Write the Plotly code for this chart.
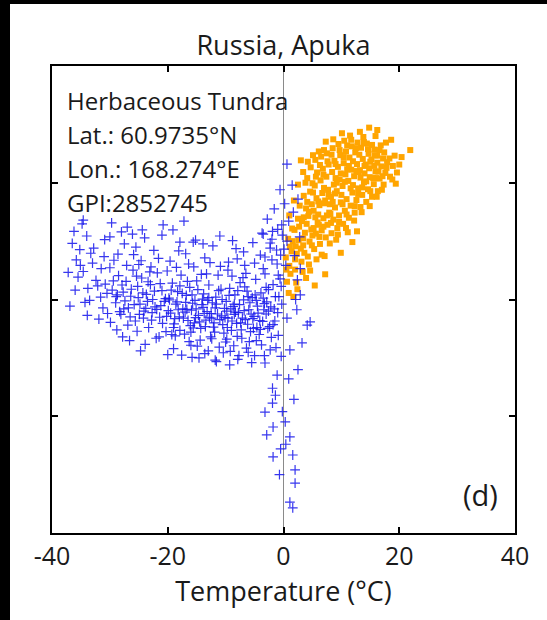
import plotly.graph_objects as go

# ---- data: winter (T < ~0) and summer observations ----
winter_temp = [
    -36.5, -35.8, -35.2, -34.6, -36.9, -33.8, -33.0, -32.4, -31.6, -35.5, -34.0, -32.8, -31.0, -30.4, -33.5, -30.8, -34.8, -31.9,
    -29.6, -29.0, -28.5, -28.1, -27.7, -27.2, -26.8, -26.4, -26.0, -25.6, -25.2, -24.8, -24.5, -24.1, -23.7, -23.3, -23.0, -22.6,
    -22.2, -21.8, -21.4, -21.0, -20.6, -20.3, -29.3, -27.5, -25.9, -24.0, -22.4, -20.8, -28.8, -26.6, -23.9, -21.5, -28.0, -25.0, -22.9,
    -19.8, -19.5, -19.2, -18.9, -18.6, -18.3, -18.0, -17.7, -17.4, -17.1, -16.8, -16.5, -16.2, -15.9, -15.6, -15.3, -15.0, -14.7,
    -14.4, -14.1, -13.8, -13.5, -13.2, -12.9, -12.6, -12.3, -12.0, -11.7, -11.4, -11.1, -10.8, -10.5, -10.2, -19.6, -18.1, -16.4,
    -15.2, -13.6, -12.2, -10.9, -19.0, -17.6, -16.0, -14.6, -13.0, -11.6, -10.4, -17.9, -16.7, -15.4, -14.0, -12.8, -11.9, -18.7, -13.3,
    -9.9, -9.6, -9.3, -9.0, -8.7, -8.4, -8.1, -7.8, -7.5, -7.2, -6.9, -6.6, -6.3, -6.0, -5.7, -5.4, -5.1, -4.8, -4.5, -4.2, -3.9,
    -3.6, -3.3, -9.5, -8.2, -6.7, -5.3, -4.0, -3.5, -9.2, -7.9, -6.4, -5.0, -3.8, -8.9, -7.0, -5.9, -4.6, -9.8, -8.5,
    -34.6, -27.0, -24.4, -21.0, -17.9, -15.6, -30.0, -3.7, -2.3,
    -0.3, 0.6, 1.5, 2.5, 1.7, -1.0, -3.5, 0.6, -2.3, 2.8, -1.1, 2.9, -3.2, 2.4, 2.9, -0.5, -1.8, -0.8, -2.6, -1.5, -0.4, -2.0, 0.2, -0.6,
    -3.2, -2.3, -1.1, -1.9, -1.9, -3.2, -1.8, 0.3, 1.1, -1.8, 1.6, 2.0, 2.0, 1.1, 1.6, 4.1, 3.2, 4.6, 1.1, 2.3, 0.6, -0.9, -2.7,
    -0.4, 0.9, -1.4, -0.2, 2.5, -2.9, 0.4, -0.7, 1.8, -0.5,
    -31.2, -30.5, -29.9, -29.4, -28.9, -28.3, -27.9, -27.4, -26.9, -26.3, -25.8, -25.4, -24.9, -24.3, -23.8, -23.4, -22.8, -22.3,
    -21.9, -21.3, -20.9, -20.4, -19.9, -19.4, -18.8, -18.4, -17.9, -17.5, -17.0, -16.6, -16.1, -15.7, -15.2, -14.8, -14.3, -13.9,
    -13.4, -12.9, -12.5, -12.1, -11.6, -11.2, -10.7, -10.3, -9.8, -9.4, -8.9, -8.5, -8.0, -7.6, -7.1, -6.7, -6.2, -5.8, -5.3, -4.9,
    -4.4, -4.0, -3.5, -3.0, -2.6, -2.2, -1.8, -1.4, -1.0, -0.6, -0.3,
    -30.0, -28.6, -27.1, -25.5, -24.6, -23.1, -21.6, -20.1, -18.5, -16.9, -15.5, -14.2, -12.7, -11.3, -9.6, -8.0, -6.5, -5.0, -3.2,
    -2.0, -1.2, -0.2,
    -27.8, -25.3, -22.0, -19.3, -16.3, -14.9, -12.4, -10.0, -8.6, -7.3, -6.1, -4.7, -3.3, -2.1, -1.3,
    -36.0, -35.1, -33.3, -32.1, -31.5, -34.3, -37.2, -36.2, -33.9,
    -30.9, -26.1, -19.1, -13.9, -8.8, -6.9, -29.7, -17.2, -11.0,
    -24.7, -20.0, -15.8, -11.8, -7.7, -5.5, -9.3, -13.6,
    -2.8, -1.6, 0.9, 1.9, -0.9, 0.4, -3.0, 2.1, -1.9, 0.1,
    -24.2, -23.5, -22.7, -21.2, -20.2, -19.7, -18.2, -17.3, -16.9, -15.8, -15.1, -14.5, -13.7, -13.1, -12.4, -11.8, -11.0, -10.6,
    -9.7, -9.1, -8.3, -7.4, -6.8, -6.1, -5.6, -4.7, -4.1, -3.4, -2.9, -2.4, -1.6, -26.5, -27.6, -28.7, -25.1, -19.0, -16.0, -10.1,
    -7.9, -5.2,
]
winter_val = [
    62.0, 58.5, 60.7, 56.0, 48.6, 52.4, 57.8, 54.1, 50.5, 54.8, 63.6, 61.0, 59.2, 47.0, 49.8, 53.3, 66.2, 45.8,
    52.0, 49.3, 55.1, 46.8, 51.6, 53.9, 48.2, 50.7, 56.3, 45.4, 52.8, 49.0, 54.6, 47.5, 51.1, 44.0, 53.2, 50.0,
    48.4, 55.7, 46.2, 51.9, 49.6, 43.1, 58.4, 61.9, 59.6, 63.2, 60.5, 66.0, 43.5, 41.2, 40.4, 42.0, 64.5, 57.5, 57.0,
    50.3, 47.1, 53.5, 44.8, 49.0, 51.7, 46.3, 55.2, 48.0, 42.6, 50.9, 45.5, 52.6, 47.7, 43.9, 49.8, 54.0, 46.6,
    41.3, 48.9, 51.2, 44.2, 47.4, 53.1, 42.0, 49.3, 45.0, 50.5, 46.9, 39.8, 52.2, 44.6, 48.1, 58.2, 60.4, 57.6,
    62.7, 58.9, 61.5, 57.1, 39.5, 38.1, 40.2, 37.5, 39.0, 36.7, 38.6, 52.9, 47.9, 45.0, 50.1, 46.2, 43.0, 42.2, 55.5,
    49.6, 46.0, 52.4, 43.4, 48.5, 51.0, 44.9, 47.2, 53.6, 41.7, 49.9, 45.7, 51.8, 47.8, 43.1, 50.4, 46.4, 54.3, 48.6, 42.5, 51.4,
    45.3, 49.1, 58.0, 60.9, 57.3, 62.2, 59.5, 56.6, 38.9, 37.2, 39.6, 38.0, 40.3, 55.0, 54.7, 41.0, 44.0, 41.5, 46.8,
    67.0, 65.5, 64.9, 63.8, 62.3, 62.3, 63.4, 64.2, 62.1,
    66.0, 79.0, 74.5, 71.5, 68.7, 65.0, 64.0, 62.5, 61.0, 63.4, 57.6, 56.6, 55.5, 54.2, 51.0, 59.5, 53.2, 50.6, 47.5, 45.4, 52.8, 58.5, 70.5, 73.5,
    36.4, 39.2, 33.8, 31.0, 27.8, 25.9, 22.7, 23.8, 20.6, 16.3, 16.7, 13.5, 10.7, 6.6, 5.4, 44.5, 40.7, 45.2, 39.2, 47.8, 46.0, 42.3, 43.8,
    37.8, 33.0, 29.5, 26.0, 35.0, 21.0, 19.0, 12.5, 28.6, 18.0,
    48.2, 51.3, 45.1, 54.0, 50.6, 47.4, 53.1, 49.7, 44.5, 52.2, 48.9, 55.0, 46.8, 51.4, 48.1, 53.8, 45.6, 51.8,
    47.9, 53.4, 44.9, 50.2, 47.6, 52.0, 45.9, 49.5, 43.4, 51.3, 47.3, 53.9, 44.4, 49.2, 46.1, 52.1, 43.8, 48.3,
    45.6, 50.4, 47.0, 44.1, 49.0, 51.9, 46.5, 42.8, 47.5, 50.9, 45.4, 49.0, 42.1, 48.9, 46.0, 52.7, 44.7, 49.3, 45.9, 51.0,
    47.1, 43.6, 50.3, 46.9, 52.1, 48.4, 44.6, 50.6, 47.2, 54.4, 49.0,
    56.8, 59.7, 57.3, 61.2, 58.3, 55.9, 58.8, 56.1, 56.9, 59.8, 57.0, 55.4, 57.9, 55.2, 56.3, 58.7, 55.6, 57.8, 59.1,
    62.9, 60.6, 63.8,
    42.0, 43.2, 41.7, 42.5, 41.0, 40.0, 41.6, 40.9, 40.1, 43.5, 38.7, 41.2, 38.0, 41.9, 39.7,
    52.0, 57.3, 59.9, 52.9, 56.6, 49.4, 55.8, 64.6, 46.6,
    62.8, 64.0, 64.9, 61.9, 62.6, 60.2, 66.4, 66.8, 63.6,
    39.0, 38.2, 37.6, 37.0, 38.0, 36.5, 36.0, 38.4,
    67.2, 69.4, 66.8, 59.4, 55.2, 57.3, 52.6, 50.0, 64.6, 60.8,
    46.0, 49.6, 47.2, 48.7, 46.4, 49.9, 47.8, 46.0, 49.4, 51.0, 48.0, 45.2, 47.0, 49.8, 46.0, 48.2, 45.7, 50.0,
    44.0, 48.0, 47.3, 45.0, 47.6, 50.6, 46.9, 49.8, 45.5, 47.8, 49.5, 44.2, 48.0, 46.3, 48.0, 51.0, 50.4, 44.0, 43.0, 46.1,
    51.9, 43.8,
]

summer_temp = [
    0.6, 1.0, 1.4, 0.8, 1.2, 0.4, 1.5, 0.9,
    2.0, 2.3, 2.6, 1.9, 2.5, 2.2, 2.8, 2.1,
    3.1, 3.4, 3.7, 3.2, 3.9, 3.5, 3.3, 3.8, 3.6,
    4.2, 4.5, 4.8, 4.3, 4.9, 4.6, 4.1, 4.7, 4.4, 5.0,
    5.3, 5.6, 5.9, 5.2, 5.7, 5.4, 5.8, 5.5, 5.1, 6.0,
    6.3, 6.6, 6.9, 6.2, 6.7, 6.4, 6.8, 6.5, 7.0, 6.1, 7.0,
    7.3, 7.6, 7.9, 7.2, 7.7, 7.4, 7.8, 7.5, 8.0, 7.1,
    8.3, 8.6, 8.9, 8.2, 8.7, 8.4, 8.8, 8.5, 9.0, 8.1,
    9.3, 9.6, 9.9, 9.2, 9.7, 9.4, 9.8, 9.5, 10.0, 9.1,
    10.3, 10.6, 10.9, 10.2, 10.7, 10.4, 10.8, 10.5, 11.0,
    11.3, 11.6, 11.9, 11.2, 11.7, 11.4, 11.8, 11.5, 12.0, 11.1,
    12.3, 12.6, 12.9, 12.2, 12.7, 12.4, 12.8, 13.0,
    13.3, 13.6, 13.9, 13.2, 13.7, 13.4, 13.8, 14.0,
    14.3, 14.6, 14.9, 14.2, 14.7, 14.4, 15.0,
    15.3, 15.6, 15.9, 15.2, 15.7, 16.0,
    16.3, 16.6, 16.9, 16.2, 16.8,
    17.3, 17.6, 17.9, 17.4,
    18.4, 18.9, 19.6, 18.6,
    21.9, 16.2, 14.8, 7.2, 12.7, 5.4, 20.4, 3.0,
    3.4, 4.0, 4.9, 5.5, 6.2, 6.9, 7.5, 8.2, 8.9, 9.6, 10.2, 10.9, 11.6, 12.3, 12.9, 13.6, 14.3, 15.0, 15.7, 16.4, 17.1, 17.8, 18.3, 18.8,
    4.1, 5.0, 5.6, 6.3, 6.9, 7.6, 8.3, 9.0, 9.7, 10.4, 11.0, 11.7, 12.5, 13.1, 13.9, 14.6, 15.3, 15.8, 16.6, 17.2,
    7.0, 7.8, 8.5, 9.2, 9.9, 10.6, 11.3, 12.0, 12.6, 13.3, 14.0, 14.8, 15.5, 16.2, 6.0, 5.2, 4.4, 3.5, 2.7, 2.0, 1.6, 1.1, 0.5, 3.0,
    8.0, 9.4, 10.8, 12.2, 13.5, 14.9, 16.1, 17.0, 6.6, 5.7, 4.6, 3.9, 2.4, 1.7, 11.9, 9.9,
    19.2, 20.0, 19.4, 17.7, 15.9, 13.2, 10.1, 8.6, 7.3, 6.1, 5.1, 4.2, 3.4, 2.5, 1.8, 1.0,
]
summer_val = [
    53.8, 57.2, 60.3, 63.0, 55.5, 59.0, 65.2, 51.4,
    56.4, 59.8, 62.7, 64.9, 67.3, 53.6, 70.1, 61.4,
    58.1, 61.6, 64.3, 66.8, 69.5, 72.2, 55.9, 75.0, 60.0,
    59.2, 62.4, 65.0, 67.9, 70.4, 73.1, 76.0, 78.3, 57.5, 63.7,
    60.8, 64.1, 66.5, 69.0, 71.7, 74.4, 77.2, 79.9, 72.9, 68.2,
    61.9, 64.8, 67.4, 70.2, 72.8, 75.5, 78.0, 80.6, 73.9, 66.0, 82.0,
    63.3, 66.0, 68.6, 71.2, 73.5, 76.3, 78.9, 81.3, 70.4, 59.3,
    64.2, 67.1, 69.7, 72.0, 74.6, 77.3, 79.7, 82.4, 76.0, 68.3,
    65.3, 68.0, 70.8, 73.2, 75.7, 78.4, 80.9, 83.3, 72.4, 62.8,
    66.2, 69.0, 71.5, 74.3, 76.8, 79.2, 81.7, 84.0, 77.9,
    67.5, 70.1, 72.9, 75.4, 77.8, 80.4, 82.8, 85.1, 74.5, 64.4,
    68.6, 71.3, 73.8, 76.4, 79.0, 81.5, 83.6, 77.3,
    69.8, 72.4, 75.1, 77.7, 80.1, 82.5, 84.8, 78.6,
    70.9, 73.6, 76.2, 78.9, 81.2, 83.4, 79.5,
    72.0, 74.7, 77.4, 80.0, 82.1, 76.0,
    73.2, 75.9, 78.5, 80.8, 83.0,
    74.6, 77.1, 79.4, 81.5,
    76.3, 78.6, 77.2, 84.2,
    82.0, 86.3, 86.8, 55.4, 64.6, 53.0, 80.5, 79.8,
    63.1, 66.2, 61.6, 67.6, 63.4, 65.6, 68.0, 66.4, 72.7, 66.6, 70.4, 68.2, 73.8, 70.0, 72.6, 74.0, 75.3, 73.2, 78.6, 77.4, 76.4, 78.2, 80.2, 75.7,
    70.9, 74.9, 76.3, 78.8, 76.7, 79.6, 81.0, 79.0, 82.0, 80.5, 83.0, 84.2, 82.4, 81.0, 83.7, 82.2, 83.1, 80.9, 82.0, 80.2,
    70.6, 72.4, 70.9, 75.0, 77.0, 75.2, 78.6, 79.6, 77.5, 76.1, 77.0, 78.1, 76.0, 79.3, 71.0, 65.3, 68.8, 67.6, 65.6, 58.6, 62.5, 61.3, 56.4, 60.9,
    62.0, 63.9, 65.3, 66.9, 68.7, 70.0, 72.0, 73.5, 59.6, 58.6, 56.2, 54.6, 52.2, 50.6, 62.3, 60.0,
    80.8, 78.9, 74.8, 83.6, 85.0, 85.9, 85.6, 84.3, 83.8, 81.7, 80.9, 79.5, 77.3, 74.6, 71.2, 68.0,
]

site_title = "Russia, Apuka"
site_info = ["Herbaceous Tundra", "Lat.: 60.9735°N", "Lon.: 168.274°E", "GPI:2852745"]
panel_tag = "(d)"
x_ticks = [-40, -20, 0, 20, 40]
y_ticks = [25, 50, 75]

# ---- layout geometry (pixels) ----
W, H = 547, 620
PL, PR, PT, PB = 52, 515, 66, 533


def fx(p):
    return (p - PL) / (PR - PL)


def fy(p):
    return (PB - p) / (PB - PT)


FONT = "Open Sans"
INK = "#1a1a1a"

fig = go.Figure()

fig.add_trace(go.Scatter(
    x=summer_temp, y=summer_val, mode="markers",
    marker=dict(symbol="square", size=6, color="#FFA500", line=dict(width=0)),
    showlegend=False, hoverinfo="skip",
))
fig.add_trace(go.Scatter(
    x=winter_temp, y=winter_val, mode="markers",
    marker=dict(symbol="cross-thin", size=7,
                line=dict(width=1.2, color="rgba(20,20,235,0.85)")),
    showlegend=False, hoverinfo="skip",
))

# zero-degree reference line
fig.add_shape(type="line", xref="x", yref="paper", x0=0, x1=0, y0=0, y1=1,
              line=dict(color="#8a8a8a", width=1), layer="below")

# dark band along the left and top edges
fig.add_shape(type="rect", xref="paper", yref="paper",
              x0=fx(0), x1=fx(10), y0=fy(H), y1=fy(0),
              fillcolor="black", line=dict(width=0))
fig.add_shape(type="rect", xref="paper", yref="paper",
              x0=fx(0), x1=fx(W), y0=fy(4), y1=fy(0),
              fillcolor="black", line=dict(width=0))

for i, line in enumerate(site_info):
    fig.add_annotation(text=line, xref="paper", yref="paper",
                       x=fx(65), y=fy(100 + 34 * i), xanchor="left", yanchor="middle",
                       showarrow=False, font=dict(family=FONT, size=24, color=INK))

fig.add_annotation(text=panel_tag, xref="paper", yref="paper",
                   x=fx(500), y=fy(494), xanchor="right", yanchor="middle",
                   showarrow=False, font=dict(family=FONT, size=29, color=INK))

fig.update_layout(
    width=W, height=H,
    margin=dict(l=PL, r=W - PR, t=PT, b=H - PB, pad=0),
    paper_bgcolor="white", plot_bgcolor="white",
    title=dict(text=site_title, x=fx(283.5), xref="paper", xanchor="center",
               y=1 - 46 / H, yanchor="middle",
               font=dict(family=FONT, size=27, color=INK)),
    font=dict(family=FONT, color=INK),
)
fig.update_xaxes(
    range=[-40, 40], tickvals=x_ticks, ticktext=[str(v) for v in x_ticks],
    ticks="inside", ticklen=6, tickwidth=2, tickcolor="black",
    showline=True, linewidth=2, linecolor="black", mirror="ticks",
    showgrid=False, zeroline=False,
    tickfont=dict(family=FONT, size=25, color=INK),
    title=dict(text="Temperature (°C)", font=dict(family=FONT, size=27, color=INK), standoff=4),
)
fig.update_yaxes(
    range=[0, 100], tickvals=y_ticks, showticklabels=False,
    ticks="inside", ticklen=6, tickwidth=2, tickcolor="black",
    showline=True, linewidth=2, linecolor="black", mirror="ticks",
    showgrid=False, zeroline=False,
)

fig.write_html("out.html")
